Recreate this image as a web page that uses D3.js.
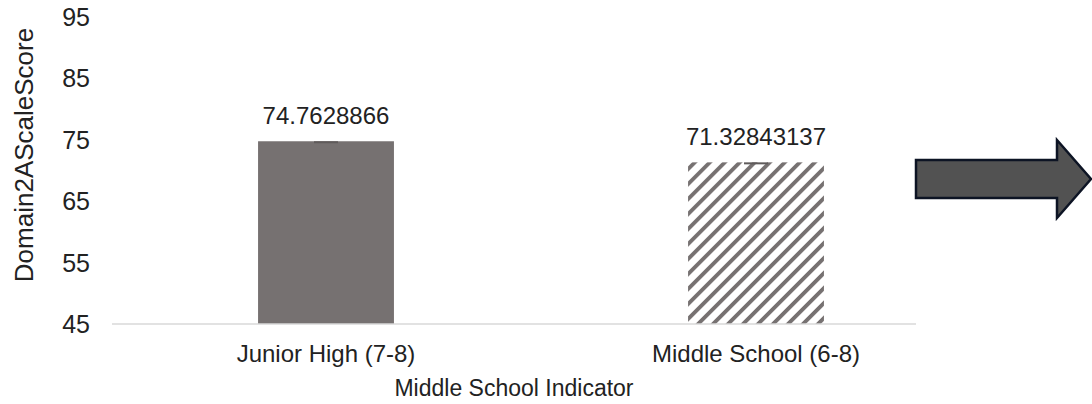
<!DOCTYPE html>
<html>
<head>
<meta charset="utf-8">
<script src="https://cdn.jsdelivr.net/npm/d3@7"></script>
<style>
  html, body { margin: 0; padding: 0; background: #fff; }
  svg { display: block; font-family: "Liberation Sans", Arial, sans-serif; }
</style>
</head>
<body>
<div id="chart"></div>
<script>
// data
const categories = ['Junior High (7-8)', 'Middle School (6-8)'];
const values = [74.7628866, 71.32843137];
const valueLabels = ['74.7628866', '71.32843137'];
const tickValues = [45, 55, 65, 75, 85, 95];
const fills = ['solid', 'hatch'];

const width = 1092;
const height = 404;

const svg = d3.select('#chart')
  .append('svg')
  .attr('width', width)
  .attr('height', height);

// diagonal hatch for the second bar
const defs = svg.append('defs');
defs.append('pattern')
  .attr('id', 'hatch')
  .attr('patternUnits', 'userSpaceOnUse')
  .attr('width', 10.6)
  .attr('height', 10.6)
  .attr('patternTransform', 'rotate(45)')
  .append('rect')
  .attr('x', 0)
  .attr('y', 0)
  .attr('width', 3.8)
  .attr('height', 10.6)
  .attr('fill', '#767171');

const y = d3.scaleLinear()
  .domain([45, 95])
  .range([324, 17]);

const x = d3.scaleBand()
  .domain(categories)
  .range([111, 971])
  .paddingInner(0.684)
  .paddingOuter(0.342);

const plotLeft = 112;
const plotRight = 916;

// y tick labels (no axis line, no ticks)
svg.append('g')
  .selectAll('text')
  .data(tickValues)
  .enter()
  .append('text')
  .attr('x', 90)
  .attr('y', d => y(d))
  .attr('dy', '0.36em')
  .attr('text-anchor', 'end')
  .style('font-size', '25px')
  .style('fill', '#222')
  .text(d => d);

// bars
svg.append('g')
  .selectAll('rect')
  .data(values)
  .enter()
  .append('rect')
  .attr('x', (d, i) => x(categories[i]))
  .attr('y', d => y(d))
  .attr('width', x.bandwidth())
  .attr('height', d => y(45) - y(d))
  .attr('fill', (d, i) => fills[i] === 'hatch' ? 'url(#hatch)' : '#767171');

// tiny error caps on top of the bars
svg.append('g')
  .selectAll('line')
  .data(values)
  .enter()
  .append('line')
  .attr('x1', (d, i) => x(categories[i]) + x.bandwidth() / 2 - 12)
  .attr('x2', (d, i) => x(categories[i]) + x.bandwidth() / 2 + 12)
  .attr('y1', d => y(d) + 1)
  .attr('y2', d => y(d) + 1)
  .attr('stroke', '#5f5b5b')
  .attr('stroke-width', 2);

// x baseline
svg.append('line')
  .attr('x1', plotLeft)
  .attr('x2', plotRight)
  .attr('y1', y(45))
  .attr('y2', y(45))
  .attr('stroke', '#d9d9d9')
  .attr('stroke-width', 1.5);

// value labels
svg.append('g')
  .selectAll('text')
  .data(values)
  .enter()
  .append('text')
  .attr('x', (d, i) => x(categories[i]) + x.bandwidth() / 2)
  .attr('y', d => y(d) - 17)
  .attr('text-anchor', 'middle')
  .style('font-size', '24px')
  .style('fill', '#222')
  .text((d, i) => valueLabels[i]);

// category labels
svg.append('g')
  .selectAll('text')
  .data(categories)
  .enter()
  .append('text')
  .attr('x', d => x(d) + x.bandwidth() / 2)
  .attr('y', 362)
  .attr('text-anchor', 'middle')
  .style('font-size', '24px')
  .style('fill', '#222')
  .text(d => d);

// axis titles
svg.append('text')
  .attr('x', (plotLeft + plotRight) / 2)
  .attr('y', 396)
  .attr('text-anchor', 'middle')
  .style('font-size', '23px')
  .style('fill', '#222')
  .text('Middle School Indicator');

svg.append('text')
  .attr('transform', 'translate(33,155) rotate(-90)')
  .attr('text-anchor', 'middle')
  .style('font-size', '26px')
  .style('fill', '#222')
  .text('Domain2AScaleScore');

// block arrow on the right
const arrow = [[916, 160], [1057, 160], [1057, 140], [1091, 179], [1057, 218], [1057, 198], [916, 198]];
svg.append('path')
  .attr('d', d3.line()(arrow) + 'Z')
  .attr('fill', '#525252')
  .attr('stroke', '#0d1424')
  .attr('stroke-width', 2.5)
  .attr('stroke-linejoin', 'miter');
</script>
</body>
</html>
